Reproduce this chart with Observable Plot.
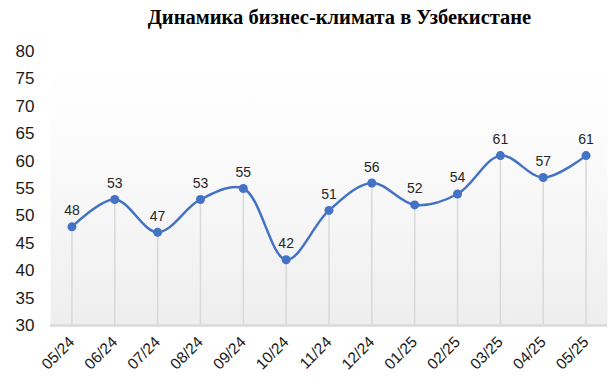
<!DOCTYPE html>
<html>
<head>
<meta charset="utf-8">
<script src="https://cdn.jsdelivr.net/npm/d3@7"></script>
<script src="https://cdn.jsdelivr.net/npm/@observablehq/plot@0.6"></script>
<style>
  html, body { margin: 0; padding: 0; background: #fff; }
  #title { height: 36px; line-height: 34px; font-family: "Liberation Serif", "Times New Roman", serif; font-weight: bold; font-size: 20.5px; color: #000; text-align: center; padding-left: 68px; box-sizing: border-box; width: 611px; white-space: nowrap; }
</style>
</head>
<body>
<div id="title">Динамика бизнес-климата в Узбекистане</div>
<div id="chart"></div>
<script>
const months = ["05/24","06/24","07/24","08/24","09/24","10/24","11/24","12/24","01/25","02/25","03/25","04/25","05/25"];
const values = [48, 53, 47, 53, 55, 42, 51, 56, 52, 54, 61, 57, 61];
const yTicks = [30, 35, 40, 45, 50, 55, 60, 65, 70, 75, 80];

const data = months.map((m, i) => ({month: m, value: values[i]}));
const blue = "#4472C4";

const chart = Plot.plot({
  width: 611,
  height: 348,
  marginTop: 15,
  marginBottom: 59,
  marginLeft: 50,
  marginRight: 4,
  style: {fontFamily: "'Liberation Sans', Arial, sans-serif", background: "transparent"},
  x: {type: "point", domain: months, padding: 0.5, round: false, label: null},
  y: {domain: [30, 80], ticks: yTicks, label: null},
  marks: [
    Plot.frame({fill: "url(#bggrad)", stroke: null}),
    Plot.ruleX(data, {x: "month", y1: 30, y2: "value", stroke: "#d9d9d9", strokeWidth: 1.5}),
    Plot.ruleY([30], {stroke: "#d9d9d9", strokeWidth: 2.5}),
    Plot.line(data, {x: "month", y: "value", stroke: blue, strokeWidth: 2.5, curve: "catmull-rom"}),
    Plot.dot(data, {x: "month", y: "value", fill: blue, r: 4.5, stroke: null}),
    Plot.text(data, {x: "month", y: "value", text: d => String(d.value), dy: -16, fontSize: 14, fill: "#262626"}),
    Plot.axisY({ticks: yTicks, tickSize: 0, tickPadding: 16, fontSize: 17, fill: "#1a1a1a"}),
    Plot.axisX({tickSize: 0, tickPadding: 14, tickRotate: -45, fontSize: 15.5, fill: "#1a1a1a"})
  ]
});

const svg = d3.select(chart);
const defs = svg.insert("defs", ":first-child");
const g = defs.append("linearGradient").attr("id", "bggrad").attr("x1", 0).attr("y1", 0).attr("x2", 0).attr("y2", 1);
g.append("stop").attr("offset", "0%").attr("stop-color", "#ffffff");
g.append("stop").attr("offset", "25%").attr("stop-color", "#fdfdfd");
g.append("stop").attr("offset", "100%").attr("stop-color", "#eeeeee");

document.getElementById("chart").appendChild(chart);
</script>
</body>
</html>
